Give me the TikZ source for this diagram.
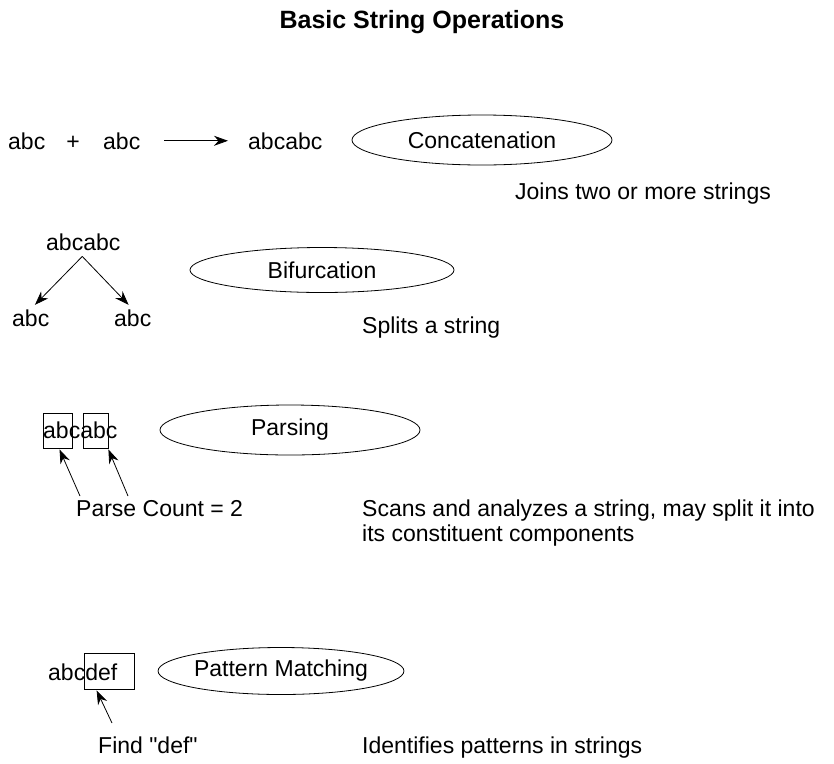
\documentclass[tikz,border=0pt]{standalone}
\usepackage{fontspec}
\setmainfont{Liberation Sans}
\usetikzlibrary{shapes.geometric,arrows.meta}

\tikzset{
	txt/.style = {anchor = base west, inner sep = 0pt, font = \fontsize{23}{25}\selectfont},
	oval/.style = {draw, ellipse, line width = 0.8pt, inner sep = 0pt, font = \fontsize{23}{25}\selectfont},
	markbox/.style = {draw, line width = 0.8pt, inner sep = 0pt},
	>={Stealth[length = 14pt, width = 10pt]}
}

\begin{document}
\begin{tikzpicture}[x = 1pt, y = -1pt]
	 \useasboundingbox (0, 0) rectangle (834, 763);
	 \node[anchor = base, inner sep = 0pt, font = \bfseries\fontsize{25}{27}\selectfont] (title) at (422, 28) {Basic String Operations};
	 
	 \node[txt] (abca) at (8, 149) {abc};
	 \node[txt, anchor = base] (plus) at (73, 149) {+};
	 \node[txt] (abcb) at (103, 149) {abc};
	 \node[txt] (joined) at (248, 149) {abcabc};
	 \draw[thick, ->] ([xshift = 24pt]abcb.east) -- ([xshift = -20pt]joined.west);
	 \node[oval, minimum width = 260pt, minimum height = 50pt] (concat) at (482, 140) {Concatenation};
	 \node[txt] (joins) at (515, 199) {Joins two or more strings};
	 
	 \node[txt] (whole) at (46, 250) {abcabc};
	 \node[txt] (left) at (12, 326) {abc};
	 \node[txt] (right) at (114, 326) {abc};
	 \coordinate (fork) at ([xshift = -1pt, yshift = -6pt]whole.south);
	 \draw[thick, ->, shorten >= 6pt] (fork) -- (left.north);
	 \draw[thick, ->, shorten >= 6pt] (fork) -- (right.north);
	 \node[oval, minimum width = 264pt, minimum height = 45pt] (bifur) at (322, 270) {Bifurcation};
	 \node[txt] (splits) at (362, 333) {Splits a string};
	 
	 \node[txt] (parsed) at (43, 438) {abcabc};
	 \node[markbox, minimum width = 29pt, minimum height = 35pt] (boxa) at (57.5, 430.5) {};
	 \node[markbox, minimum width = 25pt, minimum height = 35pt] (boxb) at (95.5, 430.5) {};
	 \node[oval, minimum width = 260pt, minimum height = 50pt] (parsing) at (290, 430) {Parsing};
	 \node[txt] (count) at (76, 516) {Parse Count = 2};
	 \coordinate (taila) at (80, 496);
	 \coordinate (tailb) at (128, 496);
	 \draw[thick, ->] (taila) -- ([xshift = 2pt, yshift = -1pt]boxa.south);
	 \draw[thick, ->] (tailb) -- ([yshift = -1pt]boxb.south east);
	 \node[txt] (scans) at (362, 516) {Scans and analyzes a string, may split it into};
	 \node[txt] (scansb) at (362, 541) {its constituent components};
	 
	 \node[txt] (pattern) at (48, 680) {abcdef};
	 \node[markbox, minimum width = 50pt, minimum height = 36pt] (boxd) at (109, 671) {};
	 \node[oval, minimum width = 238pt, minimum height = 47pt] (match) at (281, 671) {Pattern Matching};
	 \node[txt] (find) at (98, 753) {Find \textquotedbl def\textquotedbl};
	 \coordinate (taild) at (112, 723);
	 \draw[thick, ->] (taild) -- ([xshift = 13pt, yshift = -1pt]boxd.south west);
	 \node[txt] (ident) at (362, 753) {Identifies patterns in strings};
\end{tikzpicture}
\end{document}
